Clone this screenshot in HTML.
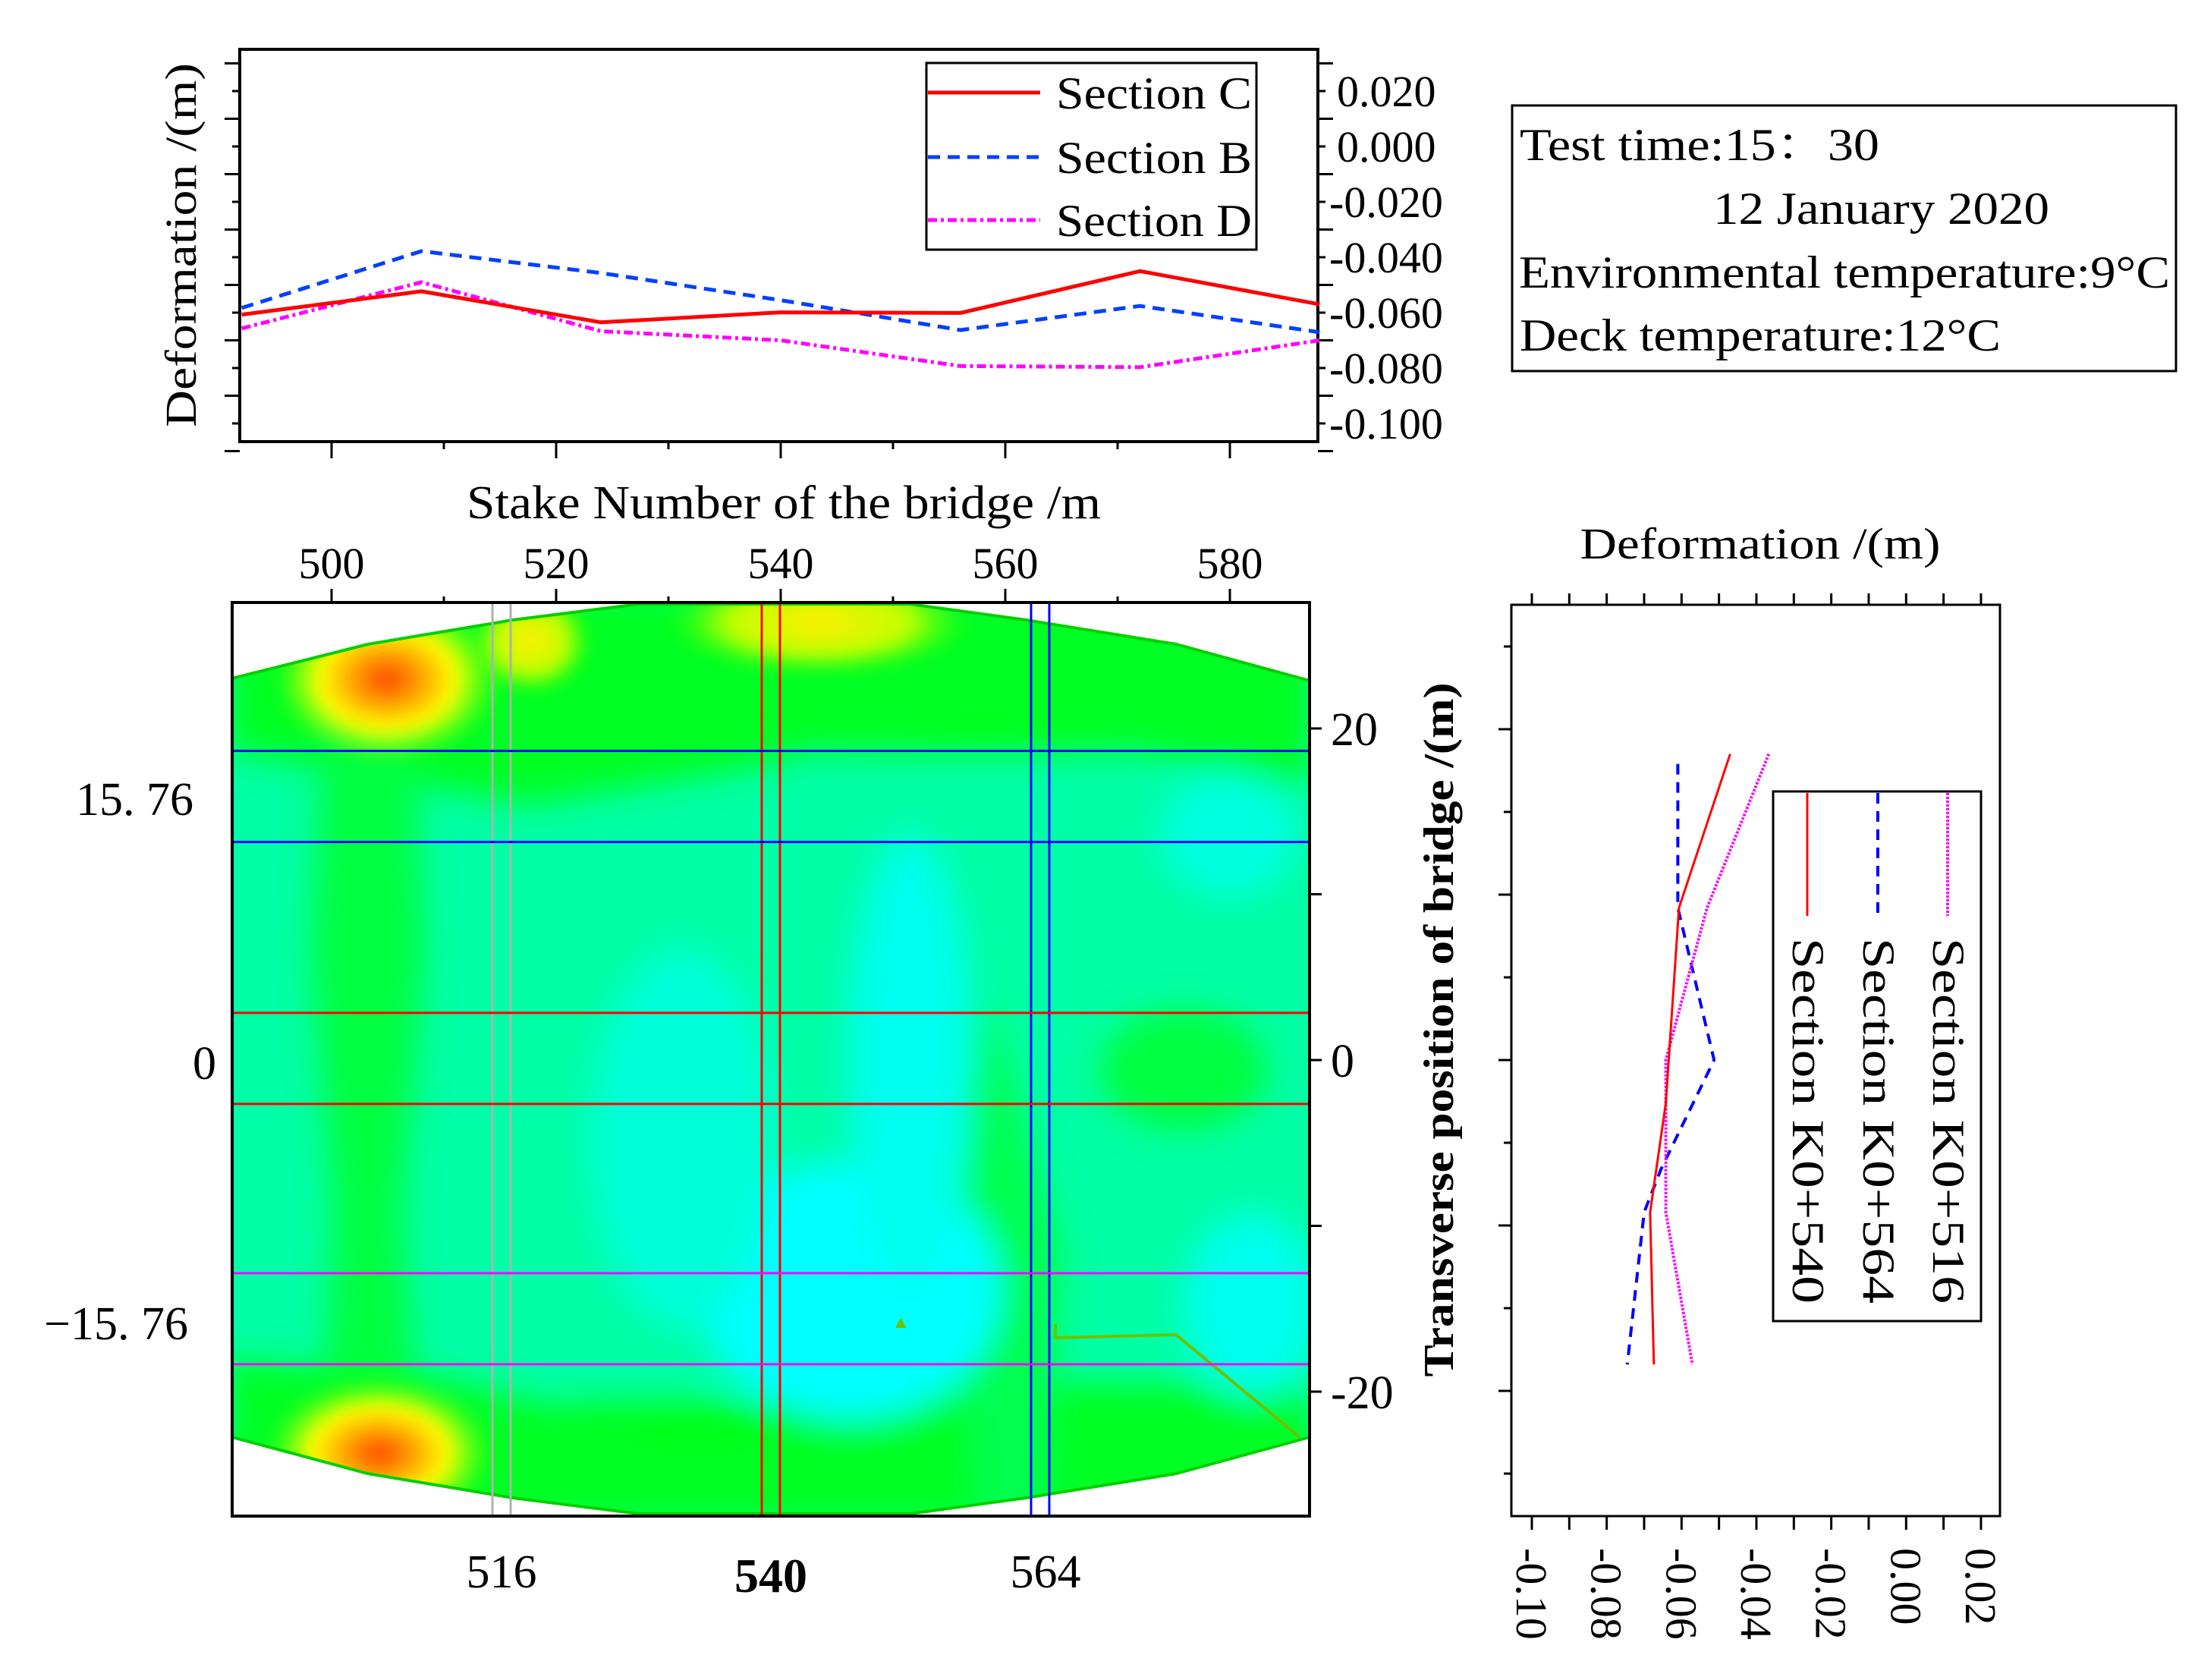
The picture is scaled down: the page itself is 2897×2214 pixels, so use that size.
<!DOCTYPE html>
<html><head><meta charset="utf-8"><style>
html,body{margin:0;padding:0;background:#fff;}
svg{display:block;font-family:"Liberation Serif","Noto Serif CJK SC",serif;}
</style></head><body>
<svg id="svg" width="2897" height="2214" viewBox="0 0 2897 2214" xmlns="http://www.w3.org/2000/svg">
<defs>
<clipPath id="deckClip"><polygon points="306,894 485,849 676,817 842,796 1199,796 1352,817 1550,849 1726,897 1726,1894 1550,1942 1352,1974 1199,1995 842,1995 676,1974 485,1942 306,1894"/></clipPath>
<filter id="blur" x="-50%" y="-50%" width="200%" height="200%"><feGaussianBlur stdDeviation="22"/></filter>
<filter id="blur2" x="-50%" y="-50%" width="200%" height="200%"><feGaussianBlur stdDeviation="10"/></filter>
<radialGradient id="hot" cx="50%" cy="50%" r="50%"><stop offset="0" stop-color="#ff4000"/><stop offset="0.3" stop-color="#ffa000"/><stop offset="0.6" stop-color="#ffff00"/><stop offset="1" stop-color="#80ff00" stop-opacity="0"/></radialGradient>
<radialGradient id="warm" cx="50%" cy="50%" r="50%"><stop offset="0" stop-color="#ffee00"/><stop offset="0.6" stop-color="#c0ff00"/><stop offset="1" stop-color="#40ff00" stop-opacity="0"/></radialGradient>
</defs>

<!-- ===== Top chart ===== -->
<g id="topChart">
<rect x="316" y="65" width="1421" height="517" fill="none" stroke="#000" stroke-width="4"/>
<g id="topTicks"></g>
<g id="topSeries"></g>
<text x="258" y="323" font-size="58" text-anchor="middle" transform="rotate(-90 258 323)" textLength="480" lengthAdjust="spacingAndGlyphs">Deformation /(m)</text>
<text x="1033" y="683" font-size="62" text-anchor="middle" textLength="836" lengthAdjust="spacingAndGlyphs">Stake Number of the bridge /m</text>
<g>
<rect x="1221" y="83" width="435" height="246" fill="#fff" stroke="#000" stroke-width="3"/>
<line x1="1223" y1="122" x2="1371" y2="122" stroke="#ff0000" stroke-width="5"/>
<text x="1392" y="143" font-size="60" textLength="258" lengthAdjust="spacingAndGlyphs">Section C</text>
<line x1="1223" y1="207" x2="1371" y2="207" stroke="#0040ff" stroke-width="5" stroke-dasharray="16,10"/>
<text x="1392" y="228" font-size="60" textLength="258" lengthAdjust="spacingAndGlyphs">Section B</text>
<line x1="1223" y1="290" x2="1371" y2="290" stroke="#ff00ff" stroke-width="5" stroke-dasharray="12,5,4,5"/>
<text x="1392" y="311" font-size="60" textLength="258" lengthAdjust="spacingAndGlyphs">Section D</text>
</g>
</g>

<!-- ===== Info box ===== -->
<g>
<rect x="1993" y="139" width="875" height="350" fill="none" stroke="#000" stroke-width="3"/>
<text x="2003" y="211" font-size="60" textLength="474" lengthAdjust="spacingAndGlyphs">Test time:15：30</text>
<text x="2258" y="295" font-size="60" textLength="443" lengthAdjust="spacingAndGlyphs">12 January 2020</text>
<text x="2002" y="379" font-size="60" textLength="858" lengthAdjust="spacingAndGlyphs">Environmental temperature:9°C</text>
<text x="2003" y="462" font-size="60" textLength="634" lengthAdjust="spacingAndGlyphs">Deck temperature:12°C</text>
</g>

<!-- ===== Contour plot ===== -->
<g id="contour">
<g clip-path="url(#deckClip)">
<rect x="300" y="790" width="1430" height="1210" fill="#00ffa6"/>
<g filter="url(#blur)">
<rect x="300" y="780" width="1430" height="210" fill="#00ff10"/>
<polygon points="300,990 700,1060 1000,1010 1100,980 1300,960 1500,990 1726,1040 1726,780 300,780" fill="#00ff20"/>
<polygon points="430,900 540,900 560,1250 530,1600 560,1960 420,1960 440,1600 410,1250" fill="#00ff40"/>
<rect x="300" y="1850" width="1430" height="160" fill="#00ff10"/>
<polygon points="300,1790 600,1820 900,1900 1100,1880 1300,1820 1726,1830 1726,2010 300,2010" fill="#00ff20"/>
<polygon points="1300,1300 1400,1650 1380,2000 1290,2000 1250,1650" fill="#00ff50"/>
<ellipse cx="1560" cy="1410" rx="110" ry="80" fill="#00ff40"/>
<ellipse cx="1120" cy="1700" rx="200" ry="170" fill="#00ffff"/>
<ellipse cx="1200" cy="1400" rx="80" ry="300" fill="#00ffee"/>
<ellipse cx="1650" cy="1720" rx="90" ry="120" fill="#00ffee"/>
<ellipse cx="1620" cy="1100" rx="90" ry="80" fill="#00ffe0"/>
<ellipse cx="900" cy="1500" rx="120" ry="250" fill="#00ffd8"/>
</g>
<g filter="url(#blur2)">
<ellipse cx="510" cy="895" rx="150" ry="110" fill="url(#hot)"/>
<ellipse cx="500" cy="1915" rx="150" ry="100" fill="url(#hot)"/>
<ellipse cx="1080" cy="820" rx="200" ry="70" fill="url(#warm)"/>
<ellipse cx="700" cy="845" rx="80" ry="70" fill="url(#warm)"/>
</g>
</g>
<polyline points="306,894 485,849 676,817 842,796 1199,796 1352,817 1550,849 1726,897" fill="none" stroke="#00d000" stroke-width="4"/>
<polyline points="306,1894 485,1942 676,1974 842,1995 1199,1995 1352,1974 1550,1942 1726,1894" fill="none" stroke="#00d000" stroke-width="4"/>
<polyline points="1391,1745 1391,1763 1550,1759 1713,1894" fill="none" stroke="#70c000" stroke-width="4"/>
<polygon points="1187,1737 1195,1750 1180,1750" fill="#70c000"/>
<g id="bands"></g>
<rect x="306" y="794" width="1420" height="1204" fill="none" stroke="#000" stroke-width="4"/>
<g id="contourTicks"></g>
<text x="255" y="1074" font-size="62" text-anchor="end">15. 76</text>
<text x="285" y="1422" font-size="62" text-anchor="end">0</text>
<text x="248" y="1765" font-size="62" text-anchor="end">−15. 76</text>
<text x="661" y="2092" font-size="62" text-anchor="middle">516</text>
<text x="1016" y="2098" font-size="64" text-anchor="middle" font-weight="bold">540</text>
<text x="1378" y="2092" font-size="62" text-anchor="middle">564</text>
</g>

<!-- ===== Right chart ===== -->
<g id="rightChart">
<rect x="1992" y="797" width="644" height="1201" fill="none" stroke="#000" stroke-width="3"/>
<g id="rightTicks"></g>
<g id="rightSeries"></g>
<text x="2320" y="736" font-size="58" text-anchor="middle" textLength="475" lengthAdjust="spacingAndGlyphs">Deformation /(m)</text>
<text x="1915" y="1357" font-size="56" font-weight="bold" text-anchor="middle" transform="rotate(-90 1915 1357)" textLength="915" lengthAdjust="spacingAndGlyphs">Transverse position of bridge /(m)</text>
<g>
<rect x="2337" y="1043" width="274" height="698" fill="#fff" stroke="#000" stroke-width="3"/>
<line x1="2567" y1="1045" x2="2567" y2="1207" stroke="#ff00ff" stroke-width="4" stroke-dasharray="3,2"/>
<text x="2548" y="1236" font-size="60" transform="rotate(90 2548 1236)" textLength="482" lengthAdjust="spacingAndGlyphs">Section K0+516</text>
<line x1="2475" y1="1045" x2="2475" y2="1207" stroke="#0000ff" stroke-width="4" stroke-dasharray="14,10"/>
<text x="2456" y="1236" font-size="60" transform="rotate(90 2456 1236)" textLength="482" lengthAdjust="spacingAndGlyphs">Section K0+564</text>
<line x1="2382" y1="1045" x2="2382" y2="1207" stroke="#ff0000" stroke-width="3"/>
<text x="2363" y="1236" font-size="60" transform="rotate(90 2363 1236)" textLength="482" lengthAdjust="spacingAndGlyphs">Section K0+540</text>
</g>
</g>
</svg>
<script>
// ---- Top chart data ----
const stakeX = [492, 508, 524, 540, 556, 572, 588];
const sectionC = [-0.0607, -0.0523, -0.0635, -0.0599, -0.0601, -0.045, -0.057];
const sectionB = [-0.0583, -0.0378, -0.0457, -0.0555, -0.0663, -0.0576, -0.0671];
const sectionD = [-0.0657, -0.049, -0.0667, -0.070, -0.0793, -0.0797, -0.070];
const stakeTicks = [500, 520, 540, 560, 580];
const deformTicks = [0.02, 0.0, -0.02, -0.04, -0.06, -0.08, -0.10];
const deformTickLabels = ["0.020", "0.000", "-0.020", "-0.040", "-0.060", "-0.080", "-0.100"];
// ---- Contour section bands ----
const longSections = [516, 540, 564];
const longColors = ["#b0b0b0", "#ff0000", "#0000ff"];
const transSections = [15.9, 0.1, -15.6];
const transColors = ["#0000ff", "#ff0000", "#ff00ff"];
const transTicks = [20, 0, -20];
// ---- Right chart data ----
const k540x = [-0.047, -0.0607, -0.0642, -0.0684, -0.0674];
const k540t = [18.5, 9.2, -2.6, -9.2, -18.4];
const k564x = [-0.061, -0.061, -0.0513, -0.0655, -0.070, -0.0745];
const k564t = [17.9, 9.2, 0, -6.6, -9.2, -18.4];
const k516x = [-0.0367, -0.0532, -0.0642, -0.0642, -0.0571];
const k516t = [18.5, 9.2, 0, -9.2, -18.4];
const rightXTicks = [-0.10, -0.08, -0.06, -0.04, -0.02, 0.00, 0.02];
const rightXLabels = ["-0.10", "-0.08", "-0.06", "-0.04", "-0.02", "0.00", "0.02"];

const NS = "http://www.w3.org/2000/svg";
function mk(tag, attrs, parent) {
  const e = document.createElementNS(NS, tag);
  for (const k in attrs) e.setAttribute(k, attrs[k]);
  parent.appendChild(e);
  return e;
}
const xTop = v => 437 + (v - 500) * 14.8;
const yTop = v => 120 + (0.02 - v) / 0.02 * 73;
const xC = v => 1016 + (v - 540) * 14.79;
const yC = t => 1397 - t * 21.85;
const xR = v => 2019 + (v + 0.10) * 4933;
const yR = t => 1397 - t * 21.8;

// top ticks
const tt = document.getElementById('topTicks');
for (let v = 490; v <= 590; v += 10) {
  const x = xTop(v);
  if (x < 318 || x > 1735) continue;
  const major = v % 20 === 0;
  const tk = mk('line', {x1: x, y1: 582, x2: x, y2: major ? 604 : 592, stroke: '#000', 'stroke-width': 3}, tt);
  
  
}
for (let k = -1; k <= 13; k++) {
  const v = 0.02 - k * 0.01;
  const y = yTop(v);
  const long = (k % 2 !== 0);
  const l1 = mk('line', {x1: 316, y1: y, x2: long ? 296 : 306, y2: y, stroke: '#000', 'stroke-width': 3}, tt);
  
  
  const l2 = mk('line', {x1: 1737, y1: y, x2: long ? 1757 : 1747, y2: y, stroke: '#000', 'stroke-width': 3}, tt);
  
  
}
deformTicks.forEach((v, i) => {
  const t = mk('text', {x: deformTickLabels[i][0] === '-' ? 1752 : 1762, y: yTop(v) + 20, 'font-size': 58}, tt);
  t.textContent = deformTickLabels[i];
  
  
});
stakeTicks.forEach(v => {
  const t = mk('text', {x: xTop(v), y: 762, 'font-size': 58, 'text-anchor': 'middle'}, tt);
  t.textContent = v;
  
  
});
// top series
const ts = document.getElementById('topSeries');
function poly(xs, ys, fx, fy, style, parent, name) {
  const pts = xs.map((x, i) => fx(x).toFixed(1) + ',' + fy(ys[i]).toFixed(1)).join(' ');
  const p = mk('polyline', Object.assign({points: pts, fill: 'none', 'stroke-linejoin': 'round'}, style), parent);
  
  
}
poly(stakeX, sectionB, xTop, yTop, {stroke: '#0040ff', 'stroke-width': 5, 'stroke-dasharray': '16,10'}, ts, 'section-b-line');
poly(stakeX, sectionD, xTop, yTop, {stroke: '#ff00ff', 'stroke-width': 5, 'stroke-dasharray': '12,5,4,5'}, ts, 'section-d-line');
poly(stakeX, sectionC, xTop, yTop, {stroke: '#ff0000', 'stroke-width': 5}, ts, 'section-c-line');

// contour bands
const bands = document.getElementById('bands');
longSections.forEach((v, i) => {
  const r = mk('rect', {x: xC(v) - 12, y: 794, width: 24, height: 1204, fill: 'none', stroke: longColors[i], 'stroke-width': 3}, bands);
  
  
});
transSections.forEach((t, i) => {
  const r = mk('rect', {x: 306, y: yC(t) - 60, width: 1420, height: 120, fill: 'none', stroke: transColors[i], 'stroke-width': 3}, bands);
  
  
});
const ct = document.getElementById('contourTicks');
for (let v = 490; v <= 590; v += 10) {
  const x = xTop(v);
  if (x < 318 || x > 1735) continue;
  const major = v % 20 === 0;
  const tk = mk('line', {x1: x, y1: 794, x2: x, y2: major ? 776 : 786, stroke: '#000', 'stroke-width': 3}, ct);
  
  
}
for (let t = -20; t <= 20; t += 10) {
  const tk = mk('line', {x1: 1726, y1: yC(t), x2: 1742, y2: yC(t), stroke: '#000', 'stroke-width': 3}, ct);
  
  
}
transTicks.forEach(t => {
  const e = mk('text', {x: 1754, y: yC(t) + 22, 'font-size': 62}, ct);
  e.textContent = t;
  
  
});

// right chart ticks
const rt = document.getElementById('rightTicks');
for (let k = 0; k <= 12; k++) {
  const v = -0.10 + k * 0.01;
  const x = xR(v);
  const a = mk('line', {x1: x, y1: 797, x2: x, y2: 782, stroke: '#000', 'stroke-width': 3}, rt);
  
  
  const b = mk('line', {x1: x, y1: 1998, x2: x, y2: 2016, stroke: '#000', 'stroke-width': 3}, rt);
  
  
}
for (let t = -25; t <= 25; t += 5) {
  const long = t % 10 === 0;
  const y = yR(t);
  const a = mk('line', {x1: 1992, y1: y, x2: long ? 1975 : 1982, y2: y, stroke: '#000', 'stroke-width': 3}, rt);
  
  
}
rightXTicks.forEach((v, i) => {
  const x = xR(v) - 20;
  const e = mk('text', {x: x, y: 2040, 'font-size': 58, transform: 'rotate(90 ' + x + ' 2040)'}, rt);
  e.textContent = rightXLabels[i];
  
  
});
const rs = document.getElementById('rightSeries');
poly(k564x, k564t, xR, yR, {stroke: '#0000ff', 'stroke-width': 4, 'stroke-dasharray': '14,10'}, rs, 'k0-564-line');
poly(k516x, k516t, xR, yR, {stroke: '#ff00ff', 'stroke-width': 4, 'stroke-dasharray': '3,2'}, rs, 'k0-516-line');
poly(k540x, k540t, xR, yR, {stroke: '#ff0000', 'stroke-width': 3}, rs, 'k0-540-line');
</script>
</body></html>
